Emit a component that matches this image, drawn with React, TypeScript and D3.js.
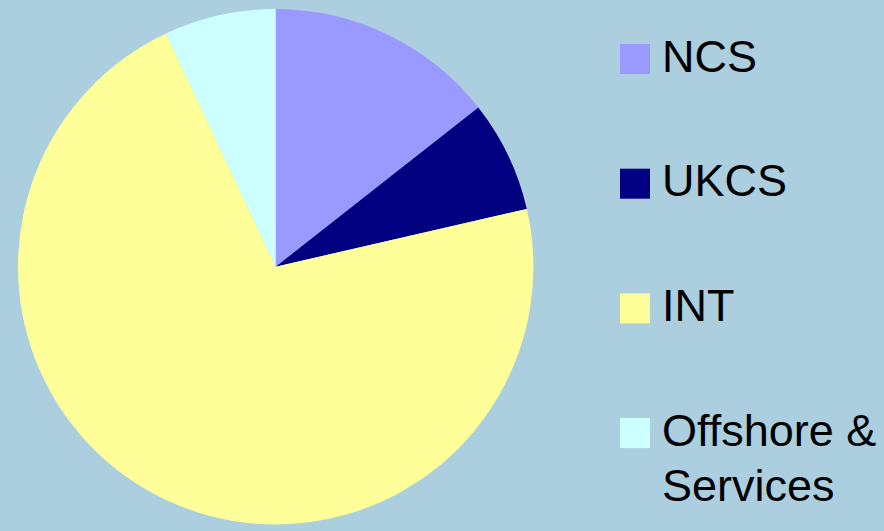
import React from "react";
import * as d3 from "d3";

const categories = ["NCS", "UKCS", "INT", "Offshore & Services"];
const values = [14.4, 7.0, 71.6, 7.0];
const colors = ["#9999ff", "#000080", "#ffff99", "#ccffff"];
const legendLines = [["NCS"], ["UKCS"], ["INT"], ["Offshore &", "Services"]];

const W = 884;
const H = 531;

export default function App() {
  const cx = 275.7;
  const cy = 266.7;
  const r = 257.7;
  const pie = d3.pie<number>().sort(null).value((d) => d)(values);
  const arc = d3.arc<d3.PieArcDatum<number>>().innerRadius(0).outerRadius(r);
  const legendY = d3.scaleLinear().domain([0, 1]).range([44, 168.7]);
  return (
    <svg
      width={W}
      height={H}
      style={{ position: "absolute", left: 0, top: 0, display: "block" }}
    >
      <rect x={0} y={0} width={W} height={H} fill="#abcfdf" />
      <g transform={`translate(${cx},${cy})`}>
        {pie.map((p, i) => (
          <path key={categories[i]} d={arc(p) || ""} fill={colors[i]} />
        ))}
      </g>
      <g fontFamily="Liberation Sans, Arial, sans-serif" fontSize={45} fill="#000">
        {categories.map((c, i) => {
          const y = legendY(i);
          return (
            <g key={c}>
              <rect x={620} y={y} width={30} height={30} fill={colors[i]} />
              <text x={662} y={y + 27.5}>
                {legendLines[i].map((l, j) => (
                  <tspan key={j} x={662} dy={j === 0 ? 0 : 55}>
                    {l}
                  </tspan>
                ))}
              </text>
            </g>
          );
        })}
      </g>
    </svg>
  );
}
